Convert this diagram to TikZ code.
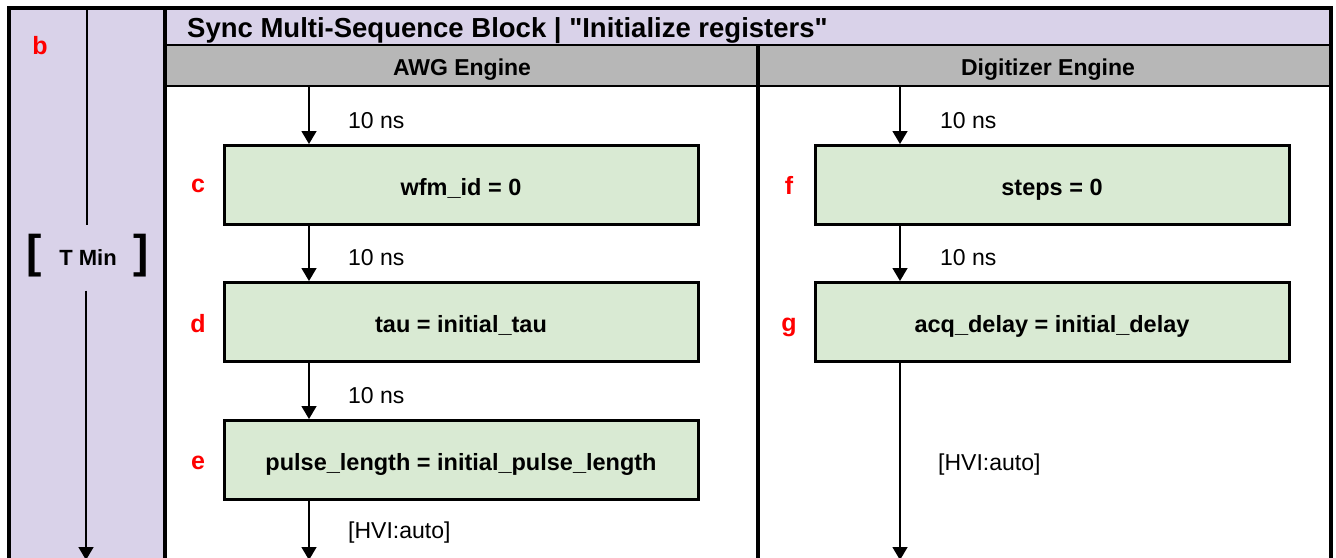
\documentclass[tikz,border=0pt]{standalone}
\usepackage{fontspec}
\setmainfont{Liberation Sans}
\newfontfamily\plainquotes{Liberation Sans}
\usetikzlibrary{arrows.meta,positioning}

\definecolor{lanepurple}{HTML}{D9D2E9}
\definecolor{headgray}{HTML}{B7B7B7}
\definecolor{regfill}{HTML}{D9EAD3}

\tikzset{
  regbox/.style={draw=black, line width=3pt, fill=regfill, minimum width=474pt,
    minimum height=79pt, text height=20pt, text depth=0pt,
    font=\fontsize{23.5}{23.5}\selectfont\bfseries},
  steptag/.style={anchor=base, text=red, font=\fontsize{25}{25}\selectfont\bfseries},
  delay/.style={anchor=west, inner sep=0pt, font=\fontsize{23}{23}\selectfont},
  flow/.style={line width=1.5pt, -{Triangle[width=15pt,length=13pt]}},
}

\begin{document}
\begin{tikzpicture}[x=1pt,y=-1pt]
  \useasboundingbox (0,0) rectangle (1336,557);

  % lanes and header bands
  \fill[lanepurple] (10,8) rectangle (165,600);
  \fill[lanepurple] (165,8) rectangle (1330,45);
  \fill[headgray] (165,45) rectangle (1330,86);
  \draw[line width=2pt] (165,45) -- (1330,45);
  \draw[line width=2pt] (165,86) -- (1330,86);
  \draw[line width=4pt] (165,8) -- (165,600);
  \draw[line width=4pt] (758,45) -- (758,600);
  \draw[line width=4pt] (9,8) rectangle (1331,620);

  \node[anchor=west, inner sep=0pt, font=\plainquotes\fontsize{27.5}{27.5}\selectfont\bfseries]
    (title) at (187,31) {Sync Multi-Sequence Block | "Initialize registers"};
  \node[font=\fontsize{23}{23}\selectfont\bfseries] (awghead) at (462,70) {AWG Engine};
  \node[font=\fontsize{23}{23}\selectfont\bfseries] (dighead) at (1048,70) {Digitizer Engine};

  % time axis
  \node[steptag] (b) at (40,54) {b};
  \node[inner sep=0pt, minimum height=65pt, font=\fontsize{22}{22}\selectfont\bfseries]
    (tmin) at (88,258) {T Min};
  \node[font=\fontsize{46}{46}\selectfont\bfseries] (lbrack) at (34,256) {[};
  \node[font=\fontsize{46}{46}\selectfont\bfseries] (rbrack) at (141,256) {]};
  \coordinate (axistop) at (87,8);
  \coordinate (axisend) at (86,560);
  \draw[line width=1.5pt] (axistop) -- (tmin.north -| axistop);
  \draw[flow] (tmin.south -| axisend) -- (axisend);

  % AWG engine
  \node[regbox] (wfm) at (461,185) {wfm\_id = 0};
  \node[regbox] (tau) at (461,322) {tau = initial\_tau};
  \node[regbox] (pulse) at (461,460) {pulse\_length = initial\_pulse\_length};
  \node[steptag] (c) at (198,192) {c};
  \node[steptag] (d) at (198,332) {d};
  \node[steptag] (e) at (198,469) {e};

  \coordinate (awgtop) at (309,86);
  \coordinate (awgend) at (309,560);
  \draw[flow] (awgtop) -- (awgtop |- wfm.north);
  \draw[flow] (wfm.south -| awgtop) -- (tau.north -| awgtop);
  \draw[flow] (tau.south -| awgtop) -- (pulse.north -| awgtop);
  \draw[flow] (pulse.south -| awgtop) -- (awgend);
  \node[delay] (awgd1) at (348,121) {10 ns};
  \node[delay] (awgd2) at (348,258) {10 ns};
  \node[delay] (awgd3) at (348,396) {10 ns};
  \node[delay] (awgauto) at (348,533) {[HVI:auto]};

  % Digitizer engine
  \node[regbox] (steps) at (1052,185) {steps = 0};
  \node[regbox] (acq) at (1052,322) {acq\_delay = initial\_delay};
  \node[steptag] (f) at (789,194) {f};
  \node[steptag] (g) at (789,331) {g};

  \coordinate (digtop) at (900,86);
  \coordinate (digend) at (900,560);
  \draw[flow] (digtop) -- (digtop |- steps.north);
  \draw[flow] (steps.south -| digtop) -- (acq.north -| digtop);
  \draw[flow] (acq.south -| digtop) -- (digend);
  \node[delay] (digd1) at (940,121) {10 ns};
  \node[delay] (digd2) at (940,258) {10 ns};
  \node[delay] (digauto) at (938,465) {[HVI:auto]};
\end{tikzpicture}
\end{document}
